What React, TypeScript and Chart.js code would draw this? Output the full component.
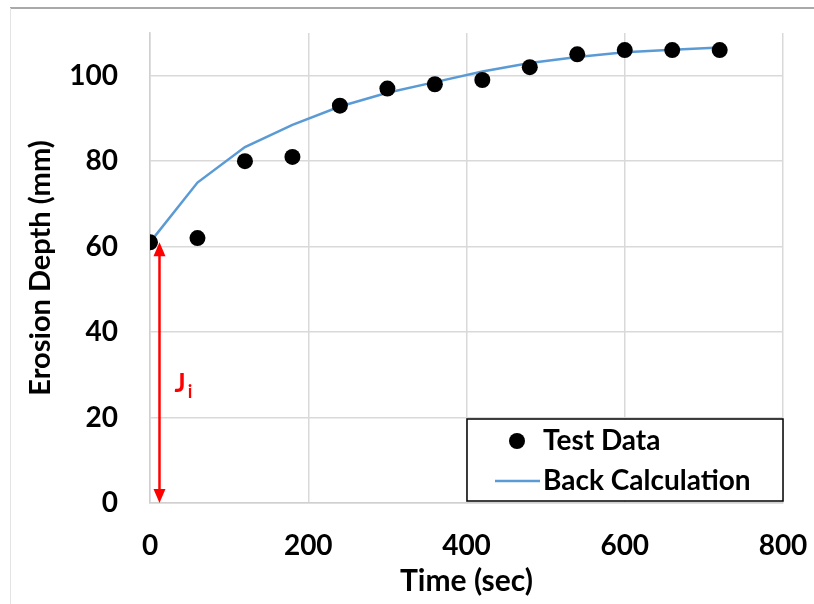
import { useEffect, useRef } from 'react';
import { Chart, registerables } from 'chart.js';

Chart.register(...registerables);

// ---- data ----
const timeSec = [0, 60, 120, 180, 240, 300, 360, 420, 480, 540, 600, 660, 720];
const testData = [61, 62, 80, 81, 93, 97, 98, 99, 102, 105, 106, 106, 106];
const backCalc = [61, 75, 83.3, 88.5, 92.8, 96, 98.5, 101, 103, 104.4, 105.5, 106.1, 106.6];
const xTicks = [0, 200, 400, 600, 800];
const yTicks = [0, 20, 40, 60, 80, 100];
const seriesNames = ['Test Data', 'Back Calculation'];
const arrowTime = 12;
const arrowFrom = 0;
const arrowTo = 61;
const arrowLabel = 'J';
const arrowLabelSub = 'i';

const FONT = 'Lato, "Open Sans", sans-serif';

const decor = {
  id: 'decor',
  beforeDraw(chart: any) {
    const { ctx, width, height } = chart;
    ctx.save();
    ctx.fillStyle = '#ffffff';
    ctx.fillRect(0, 0, width, height);
    ctx.strokeStyle = '#8c8c8c';
    ctx.lineWidth = 1.5;
    ctx.beginPath();
    ctx.moveTo(10, 8);
    ctx.lineTo(width, 8);
    ctx.stroke();
    ctx.strokeStyle = '#e3e3e3';
    ctx.lineWidth = 1;
    ctx.beginPath();
    ctx.moveTo(10.5, 8);
    ctx.lineTo(10.5, height);
    ctx.stroke();
    ctx.restore();
  },
  afterDatasetsDraw(chart: any) {
    const { ctx, scales } = chart;
    const x = scales.x.getPixelForValue(arrowTime);
    const yTop = scales.y.getPixelForValue(arrowTo);
    const yBot = scales.y.getPixelForValue(arrowFrom);
    const head = 14;
    const hw = 6;
    ctx.save();
    ctx.strokeStyle = '#ff0000';
    ctx.fillStyle = '#ff0000';
    ctx.lineWidth = 2.5;
    ctx.beginPath();
    ctx.moveTo(x, yTop + head - 1);
    ctx.lineTo(x, yBot - head + 1);
    ctx.stroke();
    ctx.beginPath();
    ctx.moveTo(x, yTop);
    ctx.lineTo(x - hw, yTop + head);
    ctx.lineTo(x + hw, yTop + head);
    ctx.closePath();
    ctx.fill();
    ctx.beginPath();
    ctx.moveTo(x, yBot);
    ctx.lineTo(x - hw, yBot - head);
    ctx.lineTo(x + hw, yBot - head);
    ctx.closePath();
    ctx.fill();
    // label
    const midY = (yTop + yBot) / 2;
    ctx.textAlign = 'left';
    ctx.textBaseline = 'alphabetic';
    ctx.font = `bold 26px ${FONT}`;
    ctx.fillText(arrowLabel, x + 15, midY + 19);
    const jw = ctx.measureText(arrowLabel).width;
    ctx.font = `bold 18px ${FONT}`;
    ctx.fillText(arrowLabelSub, x + 15 + jw + 2, midY + 25);
    ctx.restore();
  },
  afterDraw(chart: any) {
    const { ctx, chartArea } = chart;
    const w = 316;
    const h = 82;
    const x0 = chartArea.right - w;
    const y0 = chartArea.bottom - h - 2;
    ctx.save();
    ctx.fillStyle = '#ffffff';
    ctx.fillRect(x0, y0, w, h);
    ctx.strokeStyle = '#000000';
    ctx.lineWidth = 1.5;
    ctx.strokeRect(x0, y0, w, h);
    const rows = [y0 + 22, y0 + 62];
    chart.data.datasets.forEach((ds: any, i: number) => {
      const cy = rows[i];
      if (ds.showLine) {
        ctx.strokeStyle = ds.borderColor;
        ctx.lineWidth = 2.5;
        ctx.beginPath();
        ctx.moveTo(x0 + 28, cy);
        ctx.lineTo(x0 + 73, cy);
        ctx.stroke();
      } else {
        ctx.fillStyle = ds.backgroundColor;
        ctx.beginPath();
        ctx.arc(x0 + 50, cy, 8, 0, Math.PI * 2);
        ctx.fill();
      }
      ctx.fillStyle = '#000000';
      ctx.font = `bold 28px ${FONT}`;
      ctx.textAlign = 'left';
      ctx.textBaseline = 'alphabetic';
      ctx.fillText(ds.label, x0 + 76, cy + 9);
    });
    ctx.restore();
  },
};

function zeroPad(s: any) {
  s.paddingTop = 0;
  s.paddingBottom = 0;
  s.paddingLeft = 0;
  s.paddingRight = 0;
}

export default function App() {
  const ref = useRef<HTMLCanvasElement | null>(null);
  useEffect(() => {
    if (!ref.current) return;
    const chart = new Chart(ref.current, {
      type: 'scatter',
      data: {
        datasets: [
          {
            label: seriesNames[0],
            data: timeSec.map((t, i) => ({ x: t, y: testData[i] })),
            showLine: false,
            pointRadius: 8,
            pointHoverRadius: 8,
            backgroundColor: '#000000',
            borderColor: '#000000',
            borderWidth: 0,
          },
          {
            label: seriesNames[1],
            data: timeSec.map((t, i) => ({ x: t, y: backCalc[i] })),
            showLine: true,
            pointRadius: 0,
            borderColor: '#5b9bd5',
            backgroundColor: '#5b9bd5',
            borderWidth: 2.5,
            tension: 0,
          },
        ],
      },
      options: {
        animation: false,
        responsive: false,
        devicePixelRatio: 1,
        layout: { padding: { top: 33, right: 31, left: 0, bottom: 0 } },
        plugins: { legend: { display: false }, tooltip: { enabled: false } },
        scales: {
          x: {
            type: 'linear',
            min: 0,
            max: 800,
            afterBuildTicks: (s: any) => {
              s.ticks = xTicks.map((value) => ({ value }));
            },
            afterFit: (s: any) => {
              s.height = 101;
              zeroPad(s);
            },
            grid: { color: '#d9d9d9', lineWidth: 1.5, drawTicks: false },
            border: { color: '#d0d0d0', width: 1.5 },
            ticks: {
              color: '#000',
              font: { family: FONT, size: 28, weight: 'bold' },
              padding: 26,
              maxRotation: 0,
              autoSkip: false,
            },
            title: {
              display: true,
              text: 'Time (sec)',
              color: '#000',
              font: { family: FONT, size: 30, weight: 'bold' },
              padding: { top: 0, bottom: 5 },
            },
          },
          y: {
            type: 'linear',
            min: 0,
            max: 110,
            afterBuildTicks: (s: any) => {
              s.ticks = yTicks.map((value) => ({ value }));
            },
            afterFit: (s: any) => {
              s.width = 150;
              zeroPad(s);
            },
            grid: { color: '#d9d9d9', lineWidth: 1.5, drawTicks: false },
            border: { color: '#d0d0d0', width: 1.5 },
            ticks: {
              color: '#000',
              font: { family: FONT, size: 28, weight: 'bold' },
              padding: 32,
              autoSkip: false,
            },
            title: {
              display: true,
              text: 'Erosion Depth (mm)',
              color: '#000',
              font: { family: FONT, size: 29, weight: 'bold' },
              padding: { top: 23, bottom: 0 },
            },
          },
        },
      },
      plugins: [decor],
    } as any);
    return () => chart.destroy();
  }, []);
  return (
    <div style={{ position: 'absolute', left: 0, top: 0, width: 814, height: 604 }}>
      <canvas ref={ref} width={814} height={604} style={{ width: 814, height: 604, display: 'block' }} />
    </div>
  );
}
